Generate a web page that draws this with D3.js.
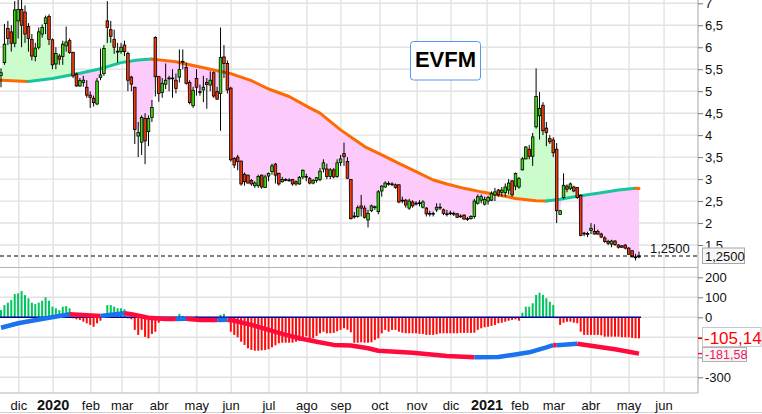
<!DOCTYPE html>
<html>
<head>
<meta charset="utf-8">
<script src="https://cdn.jsdelivr.net/npm/d3@7"></script>
<style>
  body { margin: 0; background: #fff; }
  svg { display: block; font-family: "Liberation Sans", Arial, sans-serif; }
</style>
</head>
<body>
<div id="chart"></div>
<script>
// ---- DATA ----
var ticker = "EVFM";

var openP = [
  5.36,5.65,6.43,6.35,6.09,6.60,6.86,6.80,6.47,6.18,
  5.79,6.00,6.30,6.54,6.70,6.17,5.62,5.80,5.79,6.03,
  6.15,5.88,5.39,5.12,5.20,5.09,4.91,4.84,4.71,5.31,
  5.40,6.60,6.40,6.18,5.91,5.90,6.05,5.86,5.32,5.09,
  3.98,3.84,4.38,4.08,4.40,6.22,5.33,4.97,5.16,5.30,
  5.29,5.25,5.32,5.66,5.54,5.20,4.67,5.29,4.99,5.03,
  5.20,5.14,5.42,4.99,4.95,5.78,5.63,5.07,3.47,3.50,
  3.41,3.11,3.09,2.97,2.85,2.85,3.09,2.81,3.07,3.17,
  3.34,3.13,2.94,2.99,2.98,2.99,2.94,2.89,3.05,3.06,
  3.01,2.91,2.97,2.99,3.23,3.23,3.06,3.21,3.06,3.38,
  3.58,3.40,2.99,2.16,2.15,2.39,2.34,2.07,2.28,2.37,
  2.26,2.73,2.82,2.90,2.89,2.87,2.87,2.52,2.52,2.34,
  2.48,2.45,2.46,2.36,2.34,2.22,2.22,2.30,2.36,2.30,
  2.21,2.23,2.22,2.21,2.16,2.18,2.10,2.10,2.15,2.45,
  2.52,2.43,2.50,2.52,2.64,2.75,2.70,2.69,2.75,2.96,
  2.84,2.82,3.21,3.46,3.68,3.52,4.19,4.44,4.68,4.16,
  3.92,3.89,3.68,2.20,2.58,2.84,2.79,2.82,2.81,2.63,
  1.77,1.76,1.83,1.81,1.81,1.75,1.66,1.58,1.52,1.59,
  1.50,1.48,1.50,1.43,1.37,1.23,1.23
];
var highP = [
  5.52,6.53,6.60,6.50,7.05,7.10,7.10,6.95,6.55,6.30,
  6.10,6.45,6.52,6.72,6.75,6.20,6.00,5.85,6.15,6.47,
  6.20,5.90,5.42,5.30,5.35,5.25,5.00,4.90,5.30,5.97,
  6.05,7.05,6.60,6.40,6.10,6.10,6.15,5.90,5.35,5.10,
  4.30,4.45,4.50,4.45,4.80,6.25,5.35,5.30,5.63,5.35,
  5.50,5.40,5.95,5.95,5.65,5.25,5.10,5.50,5.15,5.35,
  5.30,5.45,5.45,5.10,6.45,6.05,5.70,5.10,3.50,3.55,
  3.42,3.15,3.10,3.00,2.95,3.10,3.10,3.10,3.15,3.35,
  3.37,3.15,3.05,3.02,3.02,3.00,2.97,3.07,3.22,3.12,
  3.05,3.00,3.05,3.25,3.45,3.35,3.25,3.25,3.45,3.55,
  3.83,3.50,3.00,2.25,2.40,2.64,2.40,2.30,2.42,2.40,
  2.75,2.86,2.95,2.95,2.93,2.90,2.88,2.60,2.55,2.55,
  2.52,2.50,2.52,2.52,2.36,2.28,2.26,2.45,2.45,2.33,
  2.30,2.28,2.26,2.23,2.20,2.20,2.14,2.18,2.55,2.65,
  2.65,2.60,2.62,2.72,2.80,2.78,2.82,2.90,3.00,2.98,
  3.15,3.05,3.50,3.75,3.78,4.05,5.52,4.98,4.75,4.30,
  4.00,3.95,3.82,2.30,3.13,2.88,2.92,2.85,2.82,2.65,
  1.80,1.80,2.00,1.97,1.85,1.78,1.70,1.62,1.62,1.61,
  1.52,1.50,1.52,1.45,1.38,1.30,1.35
];
var lowP = [
  5.09,5.60,6.05,5.90,6.00,6.20,6.00,6.10,5.90,5.70,
  5.68,5.95,6.22,6.30,6.05,5.50,5.50,5.60,5.60,5.90,
  5.85,5.30,5.10,5.10,5.10,4.85,4.62,4.65,4.68,5.25,
  5.35,6.10,6.10,5.85,5.65,5.85,5.80,5.00,5.00,3.80,
  3.50,3.55,3.34,3.75,4.30,4.88,4.76,4.85,5.05,5.00,
  4.85,4.95,5.20,5.50,5.15,4.70,4.62,4.90,4.90,4.75,
  4.60,5.00,4.85,4.80,4.10,5.30,4.95,3.40,3.25,3.20,
  2.85,2.85,2.90,2.85,2.80,2.80,2.78,2.80,2.95,3.10,
  2.90,2.85,2.92,2.95,2.94,2.85,2.85,2.87,3.00,2.95,
  2.88,2.88,2.92,2.95,3.15,3.00,3.00,3.02,3.03,3.30,
  3.30,3.00,2.08,2.10,2.12,2.15,2.10,1.90,2.25,2.30,
  2.20,2.60,2.80,2.85,2.84,2.78,2.45,2.45,2.35,2.30,
  2.35,2.40,2.38,2.33,2.15,2.15,2.15,2.25,2.30,2.18,
  2.15,2.18,2.16,2.12,2.12,2.08,2.05,2.08,2.10,2.42,
  2.45,2.40,2.42,2.50,2.50,2.60,2.60,2.60,2.65,2.60,
  2.75,2.78,3.20,3.45,3.45,3.30,4.15,3.90,4.00,3.75,
  3.80,3.50,2.00,2.18,2.55,2.70,2.75,2.70,2.55,1.70,
  1.70,1.68,1.75,1.74,1.73,1.66,1.55,1.50,1.45,1.48,
  1.42,1.44,1.40,1.28,1.22,1.15,1.20
];
var closeP = [
  5.42,6.07,6.20,6.09,6.85,6.86,6.50,6.30,6.20,5.80,
  5.98,6.35,6.45,6.67,6.18,5.60,5.86,5.73,6.07,6.12,
  5.88,5.35,5.12,5.24,5.25,4.91,4.86,4.74,5.23,5.37,
  5.97,6.45,6.25,6.00,5.89,6.00,5.90,5.25,5.16,4.13,
  4.06,4.40,3.87,4.38,4.63,5.33,4.95,5.18,5.25,5.28,
  5.30,5.06,5.49,5.68,5.18,4.74,5.02,5.09,4.98,5.09,
  5.15,5.25,4.89,4.82,5.77,5.63,5.03,3.44,3.32,3.40,
  2.89,2.94,2.91,2.89,2.91,3.06,2.82,3.05,3.13,3.30,
  3.09,2.89,2.99,2.98,2.98,2.89,2.89,3.04,3.20,3.05,
  2.91,2.97,3.03,3.18,3.37,3.06,3.21,3.05,3.37,3.46,
  3.51,3.02,2.10,2.14,2.35,2.34,2.13,2.22,2.39,2.37,
  2.71,2.84,2.91,2.90,2.88,2.81,2.48,2.52,2.41,2.50,
  2.39,2.45,2.46,2.48,2.21,2.22,2.22,2.36,2.36,2.22,
  2.21,2.23,2.22,2.13,2.16,2.09,2.10,2.15,2.50,2.60,
  2.60,2.54,2.58,2.67,2.71,2.64,2.75,2.82,2.91,2.64,
  3.13,3.01,3.46,3.73,3.52,3.96,4.88,4.61,4.10,4.06,
  3.85,3.60,2.28,2.28,2.86,2.77,2.89,2.73,2.58,1.72,
  1.76,1.76,1.88,1.75,1.75,1.68,1.58,1.54,1.59,1.51,
  1.45,1.45,1.43,1.29,1.23,1.23,1.25
];

// smooth trend curve, sampled at bar indexes
var trendIdx = [0,8,15,23,29,35,40,44,51,55,61,67,73,78,84,90,93,99,106,111,116,121,126,130,135,140,145,150,156,159,163,169,175,180,185,186];
var trendVal = [5.25,5.22,5.29,5.41,5.51,5.65,5.71,5.73,5.67,5.60,5.50,5.40,5.24,5.05,4.88,4.62,4.50,4.12,3.74,3.55,3.36,3.17,2.98,2.89,2.79,2.71,2.64,2.56,2.51,2.50,2.54,2.62,2.69,2.75,2.79,2.785];

// lower panel histogram, one value per bar
var histVal = [
  36,61,73,86,116,120,131,111,95,73,
  66,73,83,100,83,53,45,36,53,56,
  45,-5,-10,-13,-22,-30,-38,-47,-30,-17,
  17,61,61,53,45,45,40,-5,-10,-63,
  -88,-63,-98,-105,-83,-72,-27,-13,-2,-5,
  -2,-2,17,7,-10,-2,-2,7,-13,-10,
  -5,-2,-2,-2,12,17,-3,-72,-88,-100,
  -122,-138,-155,-163,-167,-167,-165,-163,-160,-150,
  -140,-130,-127,-127,-127,-127,-122,-118,-100,-95,
  -110,-105,-93,-80,-72,-80,-80,-78,-70,-63,
  -55,-62,-75,-127,-127,-125,-127,-127,-125,-113,
  -105,-80,-63,-72,-63,-63,-72,-77,-80,-80,
  -80,-80,-83,-83,-88,-88,-88,-85,-80,-80,
  -80,-80,-80,-80,-78,-78,-78,-78,-77,-63,
  -55,-50,-47,-43,-38,-30,-27,-22,-17,-13,
  -10,-17,23,53,53,70,112,123,112,95,
  78,62,-5,-38,-27,-22,-22,-27,-30,-72,
  -88,-88,-88,-88,-88,-90,-97,-97,-97,-97,
  -97,-100,-100,-100,-103,-105,-105.14
];

// lower panel signal line, sampled at bar indexes
var sigIdx = [0,5,9,14,20,29,36,38,43,48,51,54,58,63,66,68,73,78,82,87,92,97,102,107,110,120,130,138,145,149,154,159,161,162,168,174,179,183,186];
var sigVal = [-52,-30,-17,-2,15,7,20,15,-2,-8,-9,-7,-13,-14,-12,-17,-38,-63,-83,-105,-122,-138,-141,-155,-167,-177,-193,-200,-198,-188,-175,-150,-139,-140,-132,-147,-160,-172,-181.58];

var monthPos = [5.2,15.2,26.2,35.3,46.1,57.1,67.1,78.1,89.2,99.1,110.5,121.3,131.2,141.7,151.3,161.2,172,183.1,193.3];
var monthLabels = ["dic","2020","feb","mar","abr","may","jun","jul","ago","sep","oct","nov","dic","2021","feb","mar","abr","may","jun"];

var priceTicks = [1.5,2,2.5,3,3.5,4,4.5,5,5.5,6,6.5,7];
var indTicks = [200,100,0,-100,-200,-300];
var indLabelled = [200,100,0,-300];

var lastPrice = 1.25, lastHist = -105.14, lastSig = -181.58;

// ---- CHART ----
var W = 762, H = 414, plotR = 698;
var mainTop = 0, mainBot = 267, lowTop = 268, lowBot = 393;

var svg = d3.select("#chart").append("svg").attr("width", W).attr("height", H);

var n = closeP.length;
var x = d3.scaleLinear().domain([0, n - 1]).range([1, 639]);
var yP = d3.scaleLinear().domain([1, 7]).range([mainBot, 3.3]);
var yI = d3.scaleLinear().domain([-300, 200]).range([377.3, 277.3]);

var fmt = function(v, d) { return (d == null ? String(v) : v.toFixed(d)).replace(".", ","); };

// grid
var grid = svg.append("g").attr("stroke", "#e2e2e2").attr("stroke-width", 1.4);
grid.selectAll(".hp").data(priceTicks).join("line")
  .attr("x1", 0).attr("x2", plotR).attr("y1", function(d) { return yP(d); }).attr("y2", function(d) { return yP(d); });
grid.selectAll(".hi").data(indTicks).join("line")
  .attr("x1", 0).attr("x2", plotR).attr("y1", function(d) { return yI(d); }).attr("y2", function(d) { return yI(d); });
grid.selectAll(".v").data(monthPos).join("line")
  .attr("x1", function(d) { return x(d); }).attr("x2", function(d) { return x(d); })
  .attr("y1", 0).attr("y2", lowBot);

// clip for main panel
var defs = svg.append("defs");
defs.append("clipPath").attr("id", "mainClip").append("rect")
  .attr("x", 0).attr("y", mainTop).attr("width", plotR).attr("height", mainBot - mainTop);

var closePts = closeP.map(function(c, i) { return [x(i), yP(c)]; });
var trendPts = trendIdx.map(function(t, k) { return [x(t), yP(trendVal[k])]; });
var trendPath = "M" + trendPts.join("L");

defs.append("clipPath").attr("id", "aboveTrend").append("path")
  .attr("d", trendPath + "L" + [x(n - 1) + 2, -10] + "L" + [x(0) - 2, -10] + "Z");
defs.append("clipPath").attr("id", "belowTrend").append("path")
  .attr("d", trendPath + "L" + [x(n - 1) + 2, mainBot + 10] + "L" + [x(0) - 2, mainBot + 10] + "Z");

var fillD = "M" + closePts.join("L") + "L" + trendPts.slice().reverse().join("L") + "Z";
var main = svg.append("g").attr("clip-path", "url(#mainClip)");
main.append("g").attr("clip-path", "url(#aboveTrend)").append("path").attr("d", fillD).attr("fill", "#ccfccc");
main.append("g").attr("clip-path", "url(#belowTrend)").append("path").attr("d", fillD).attr("fill", "#fccbfc");

// colour runs by slope
function runs(idx, val, ys) {
  var out = [], cur = null;
  for (var k = 0; k < idx.length - 1; k++) {
    var up = val[k + 1] >= val[k];
    if (!cur || cur.up !== up) {
      cur = { up: up, pts: [[x(idx[k]), ys(val[k])]] };
      out.push(cur);
    }
    cur.pts.push([x(idx[k + 1]), ys(val[k + 1])]);
  }
  return out;
}

main.selectAll(".trend").data(runs(trendIdx, trendVal, yP)).join("path")
  .attr("d", function(r) { return "M" + r.pts.join("L"); })
  .attr("fill", "none").attr("stroke-width", 3).attr("stroke-linejoin", "round").attr("stroke-linecap", "round")
  .attr("stroke", function(r) { return r.up ? "#17c59c" : "#ff6a00"; });

// candles
var bars = d3.range(n);
var cg = main.append("g");
cg.selectAll(".wick").data(bars).join("line")
  .attr("x1", function(i) { return x(i); }).attr("x2", function(i) { return x(i); })
  .attr("y1", function(i) { return yP(highP[i]); }).attr("y2", function(i) { return yP(lowP[i]); })
  .attr("stroke", "#000").attr("stroke-width", 1);
cg.selectAll(".body").data(bars).join("rect")
  .attr("x", function(i) { return x(i) - 1.3; }).attr("width", 2.6)
  .attr("y", function(i) { return yP(Math.max(openP[i], closeP[i])); })
  .attr("height", function(i) { return Math.max(0.8, Math.abs(yP(openP[i]) - yP(closeP[i]))); })
  .attr("fill", function(i) { return closeP[i] >= openP[i] ? "#3ada10" : "#f03a0a"; })
  .attr("stroke", "#000").attr("stroke-width", 0.8);

// last price dashed line
svg.append("line").attr("x1", 0).attr("x2", plotR)
  .attr("y1", yP(lastPrice)).attr("y2", yP(lastPrice))
  .attr("stroke", "#000").attr("stroke-dasharray", "4,3").attr("stroke-width", 1);
svg.append("text").attr("x", 650).attr("y", 252.5).attr("font-size", 13).attr("fill", "#111")
  .text(fmt(lastPrice, 4));

// ticker box
svg.append("rect").attr("x", 410.5).attr("y", 41.5).attr("width", 70).attr("height", 38.5).attr("rx", 3)
  .attr("fill", "#fff").attr("stroke", "#5a96f0");
svg.append("text").attr("x", 445.5).attr("y", 67).attr("text-anchor", "middle")
  .attr("font-size", 22).attr("font-weight", "bold").attr("fill", "#000").text(ticker);

// lower panel histogram
svg.append("g").selectAll("rect").data(bars).join("rect")
  .attr("x", function(i) { return x(i) - 1; }).attr("width", 2)
  .attr("y", function(i) { return Math.min(yI(histVal[i]), yI(0)); })
  .attr("height", function(i) { return Math.abs(yI(histVal[i]) - yI(0)); })
  .attr("fill", function(i) { return histVal[i] >= 0 ? "#00c45e" : "#ff0a0a"; });
svg.append("line").attr("x1", 0).attr("x2", x(n - 1) + 2).attr("y1", yI(0)).attr("y2", yI(0))
  .attr("stroke", "#0000a0").attr("stroke-width", 1.5);
svg.append("g").selectAll("path").data(runs(sigIdx, sigVal, yI)).join("path")
  .attr("d", function(r) { return "M" + r.pts.join("L"); })
  .attr("fill", "none").attr("stroke-width", 4.5).attr("stroke-linejoin", "round")
  .attr("stroke", function(r) { return r.up ? "#1a72f0" : "#ff0a3c"; });

// panel frames
var frame = svg.append("g").attr("stroke", "#b4b4b4").attr("stroke-width", 1.2);
frame.append("line").attr("x1", 0).attr("x2", plotR).attr("y1", 267.5).attr("y2", 267.5);
frame.append("line").attr("x1", 0).attr("x2", plotR).attr("y1", lowBot).attr("y2", lowBot);
frame.append("line").attr("x1", plotR).attr("x2", plotR).attr("y1", 0).attr("y2", lowBot);
frame.append("line").attr("x1", 0).attr("x2", W).attr("y1", 412.5).attr("y2", 412.5).attr("stroke", "#d0d0d0");

// right axes
var pAxis = svg.append("g").attr("transform", "translate(" + plotR + ",0)")
  .call(d3.axisRight(yP).tickValues(priceTicks).tickSize(5).tickPadding(2).tickFormat(function(d) { return fmt(d); }));
var iAxis = svg.append("g").attr("transform", "translate(" + plotR + ",0)")
  .call(d3.axisRight(yI).tickValues(indTicks).tickSize(5).tickPadding(2)
    .tickFormat(function(d) { return indLabelled.indexOf(d) >= 0 ? fmt(d) : ""; }));
[pAxis, iAxis].forEach(function(a) {
  a.select(".domain").remove();
  a.selectAll("line").attr("stroke", "#777");
  a.selectAll("text").attr("font-size", 13).attr("fill", "#111").attr("font-family", "Liberation Sans, Arial, sans-serif");
});

// value boxes
svg.append("rect").attr("x", 702.5).attr("y", 248).attr("width", 42).attr("height", 15.5)
  .attr("fill", "#f6f6f6").attr("stroke", "#a8a8a8");
svg.append("text").attr("x", 705).attr("y", 260.5).attr("font-size", 13).attr("fill", "#111").text(fmt(lastPrice, 4));

svg.append("line").attr("x1", plotR).attr("x2", plotR + 5).attr("y1", yI(lastHist)).attr("y2", yI(lastHist))
  .attr("stroke", "#ff0000").attr("stroke-width", 1.5);
svg.append("rect").attr("x", 702.5).attr("y", 327.5).attr("width", 58.5).attr("height", 19)
  .attr("fill", "#fff").attr("stroke", "#c8c8c8");
svg.append("text").attr("x", 704).attr("y", 343.5).attr("font-size", 17).attr("fill", "#ff0000").text(fmt(lastHist, 2));

svg.append("line").attr("x1", plotR).attr("x2", plotR + 5).attr("y1", yI(lastSig)).attr("y2", yI(lastSig))
  .attr("stroke", "#ff0a3c").attr("stroke-width", 1.5);
svg.append("rect").attr("x", 702.5).attr("y", 347.5).attr("width", 44).attr("height", 14)
  .attr("fill", "#f6f6f6").attr("stroke", "#b0b0b0");
svg.append("text").attr("x", 705).attr("y", 358.8).attr("font-size", 12.5).attr("fill", "#f0185a").text(fmt(lastSig, 2));

// month labels
svg.append("g").selectAll("text").data(monthLabels).join("text")
  .attr("x", function(d, k) { return x(monthPos[k]); }).attr("y", 409.5)
  .attr("text-anchor", "middle")
  .attr("font-size", function(d) { return /^\d+$/.test(d) ? 14.5 : 13; })
  .attr("font-weight", function(d) { return /^\d+$/.test(d) ? "bold" : "normal"; })
  .attr("fill", "#111")
  .text(function(d) { return d; });
</script>
</body>
</html>
